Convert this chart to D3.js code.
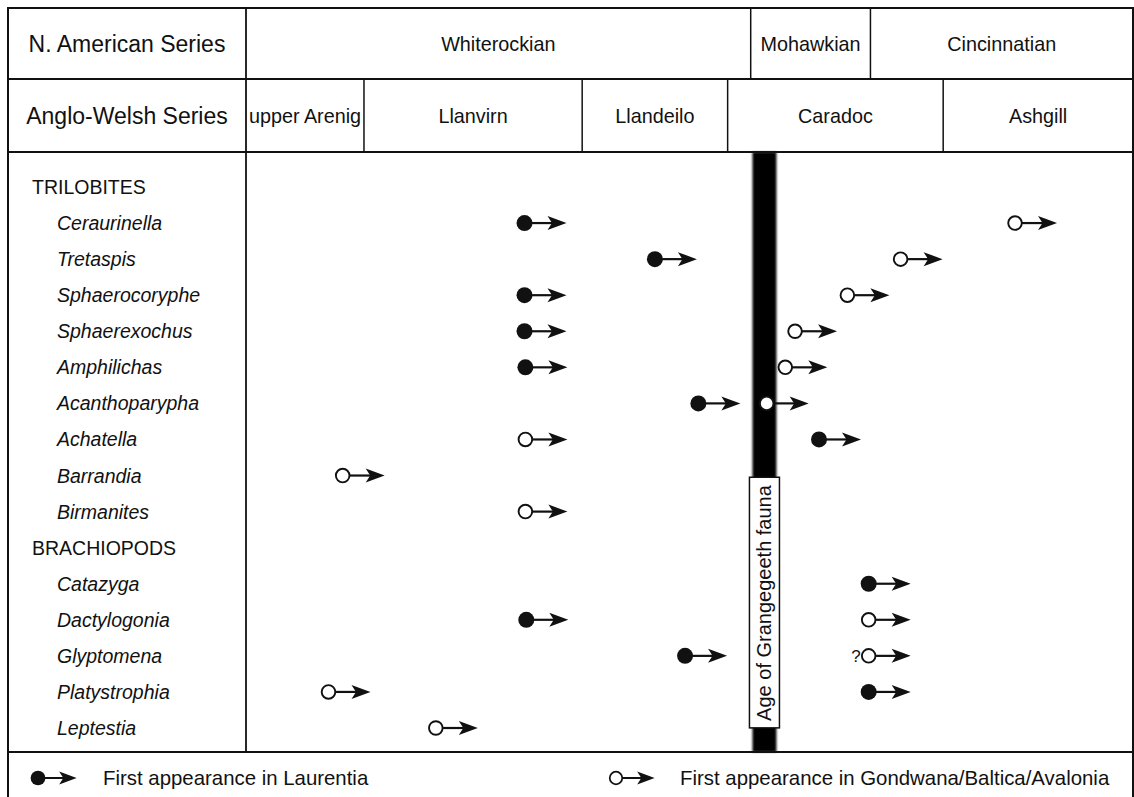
<!DOCTYPE html>
<html>
<head>
<meta charset="utf-8">
<script src="https://cdn.jsdelivr.net/npm/d3@7"></script>
<style>
  body { margin: 0; background: #fff; }
  svg { display: block; }
  text { font-family: "Liberation Sans", Arial, Helvetica, sans-serif; fill: #111; }
</style>
</head>
<body>
<div id="chart"></div>
<script>
// stratigraphic position, 0 = base of upper Arenig, 100 = top of Ashgill
const naSeries = ['Whiterockian', 'Mohawkian', 'Cincinnatian'];
const naBreaks = [0, 56.9, 70.4, 100];
const awSeries = ['upper Arenig', 'Llanvirn', 'Llandeilo', 'Caradoc', 'Ashgill'];
const awBreaks = [0, 13.3, 37.9, 54.3, 78.6, 100];

const trilobites = ['Ceraurinella', 'Tretaspis', 'Sphaerocoryphe', 'Sphaerexochus', 'Amphilichas',
  'Acanthoparypha', 'Achatella', 'Barrandia', 'Birmanites'];
const brachiopods = ['Catazyga', 'Dactylogonia', 'Glyptomena', 'Platystrophia', 'Leptestia'];
const taxa = trilobites.concat(brachiopods);

// first appearance, same order as taxa (null = not shown)
const laurentiaFirst = [31.4, 46.1, 31.4, 31.4, 31.5, 51.0, 64.6, null, null, 70.2, 31.6, 49.5, 70.2, null];
const gondwanaFirst  = [86.7, 73.8, 67.8, 61.9, 60.8, 58.7, 31.5, 10.9, 31.5, null, 70.2, 70.2, 9.3, 21.4];
const gondwanaQuery = ['Glyptomena'];

const faunaAge = [57.1, 59.8];
const faunaLabel = 'Age of Grangegeeth fauna';
const legendLabels = ['First appearance in Laurentia', 'First appearance in Gondwana/Baltica/Avalonia'];

const W = 1134, H = 797;
const boxL = 8, colX = 246, boxR = 1133, boxT = 8, row1 = 79, row2 = 152, bodyB = 752, boxB = 802;

const svg = d3.select('#chart').append('svg')
    .attr('width', W)
    .attr('height', H);

const x = d3.scaleLinear().domain([0, 100]).range([colX, boxR]);
const rows = ['TRILOBITES'].concat(trilobites, ['BRACHIOPODS'], brachiopods);
const y = d3.scalePoint().domain(rows).range([187, 728]);

// blur for the fauna bar
const defs = svg.append('defs');
defs.append('filter').attr('id', 'soft')
    .attr('x', '-50%').attr('y', '-5%').attr('width', '200%').attr('height', '110%')
  .append('feGaussianBlur').attr('stdDeviation', 1.1);

// fauna age bar (behind everything)
svg.append('rect')
    .attr('x', x(faunaAge[0]))
    .attr('y', row2)
    .attr('width', x(faunaAge[1]) - x(faunaAge[0]))
    .attr('height', bodyB - row2)
    .attr('fill', '#000')
    .attr('filter', 'url(#soft)');

// grid lines
const lines = svg.append('g').attr('stroke', '#111').attr('fill', 'none');
lines.append('rect')
    .attr('x', boxL).attr('y', boxT)
    .attr('width', boxR - boxL).attr('height', boxB - boxT)
    .attr('stroke-width', 2);
[row1, row2, bodyB].forEach(function (yy) {
  lines.append('line').attr('x1', boxL).attr('x2', boxR).attr('y1', yy).attr('y2', yy)
      .attr('stroke-width', 2);
});
lines.append('line').attr('x1', colX).attr('x2', colX).attr('y1', boxT).attr('y2', bodyB)
    .attr('stroke-width', 1.8);
naBreaks.slice(1, -1).forEach(function (b) {
  lines.append('line').attr('x1', x(b)).attr('x2', x(b)).attr('y1', boxT).attr('y2', row1)
      .attr('stroke-width', 1.5);
});
awBreaks.slice(1, -1).forEach(function (b) {
  lines.append('line').attr('x1', x(b)).attr('x2', x(b)).attr('y1', row1).attr('y2', row2)
      .attr('stroke-width', 1.5);
});

// header texts
const head = svg.append('g').attr('text-anchor', 'middle');
head.append('text').attr('x', (boxL + colX) / 2).attr('y', (boxT + row1) / 2 + 8)
    .style('font-size', '23px').text('N. American Series');
head.append('text').attr('x', (boxL + colX) / 2).attr('y', (row1 + row2) / 2 + 8)
    .style('font-size', '23px').text('Anglo-Welsh Series');
head.selectAll('.na').data(naSeries).enter().append('text')
    .attr('x', function (d, i) { return (x(naBreaks[i]) + x(naBreaks[i + 1])) / 2; })
    .attr('y', (boxT + row1) / 2 + 7)
    .style('font-size', '19.8px')
    .text(function (d) { return d; });
head.selectAll('.aw').data(awSeries).enter().append('text')
    .attr('x', function (d, i) { return (x(awBreaks[i]) + x(awBreaks[i + 1])) / 2; })
    .attr('y', (row1 + row2) / 2 + 7)
    .style('font-size', '19.8px')
    .text(function (d) { return d; });

// row labels
const labels = svg.append('g');
labels.selectAll('text').data(rows).enter().append('text')
    .attr('x', function (d) { return taxa.indexOf(d) < 0 ? 32 : 57; })
    .attr('y', function (d) { return y(d) + 7; })
    .style('font-size', '19.5px')
    .style('font-style', function (d) { return taxa.indexOf(d) < 0 ? 'normal' : 'italic'; })
    .text(function (d) { return d; });

// marker: circle with arrow pointing up-section
function marker(g, cx, cy, filled, s) {
  s = s || 1;
  const m = g.append('g').attr('transform', 'translate(' + cx + ',' + cy + ') scale(' + s + ')');
  m.append('line').attr('x1', 0).attr('x2', 29).attr('y1', 0).attr('y2', 0)
      .attr('stroke', '#111').attr('stroke-width', 2.2);
  m.append('path').attr('d', 'M42,0 L23,-7 L27.5,0 L23,7 Z').attr('fill', '#111');
  if (filled) {
    m.append('circle').attr('r', 8).attr('fill', '#111');
  } else {
    m.append('circle').attr('r', 6.8).attr('fill', '#fff')
        .attr('stroke', '#111').attr('stroke-width', 1.9);
  }
}

const marks = svg.append('g');
taxa.forEach(function (t, i) {
  if (laurentiaFirst[i] != null) marker(marks, x(laurentiaFirst[i]), y(t), true);
  if (gondwanaFirst[i] != null) {
    marker(marks, x(gondwanaFirst[i]), y(t), false);
    if (gondwanaQuery.indexOf(t) >= 0) {
      marks.append('text').attr('x', x(gondwanaFirst[i]) - 8).attr('y', y(t) + 6)
          .attr('text-anchor', 'end').style('font-size', '17px').text('?');
    }
  }
});

// fauna label box
const lab = svg.append('g')
    .attr('transform', 'translate(' + ((x(faunaAge[0]) + x(faunaAge[1])) / 2) + ',603) rotate(-90)');
const labBox = lab.append('rect').attr('fill', '#fff').attr('stroke', '#111').attr('stroke-width', 1.5);
const labText = lab.append('text').attr('text-anchor', 'middle').attr('y', 7)
    .style('font-size', '20px').text(faunaLabel);
const bb = labText.node().getBBox();
labBox.attr('x', bb.x - 7).attr('y', -15).attr('width', bb.width + 14).attr('height', 30);

// legend
const legend = svg.append('g');
const legY = 778;
marker(legend, 38, legY, true, 0.92);
legend.append('text').attr('x', 103).attr('y', legY + 7).style('font-size', '20.4px').text(legendLabels[0]);
marker(legend, 616, legY, false, 0.92);
legend.append('text').attr('x', 680).attr('y', legY + 7).style('font-size', '20.4px').text(legendLabels[1]);
</script>
</body>
</html>
